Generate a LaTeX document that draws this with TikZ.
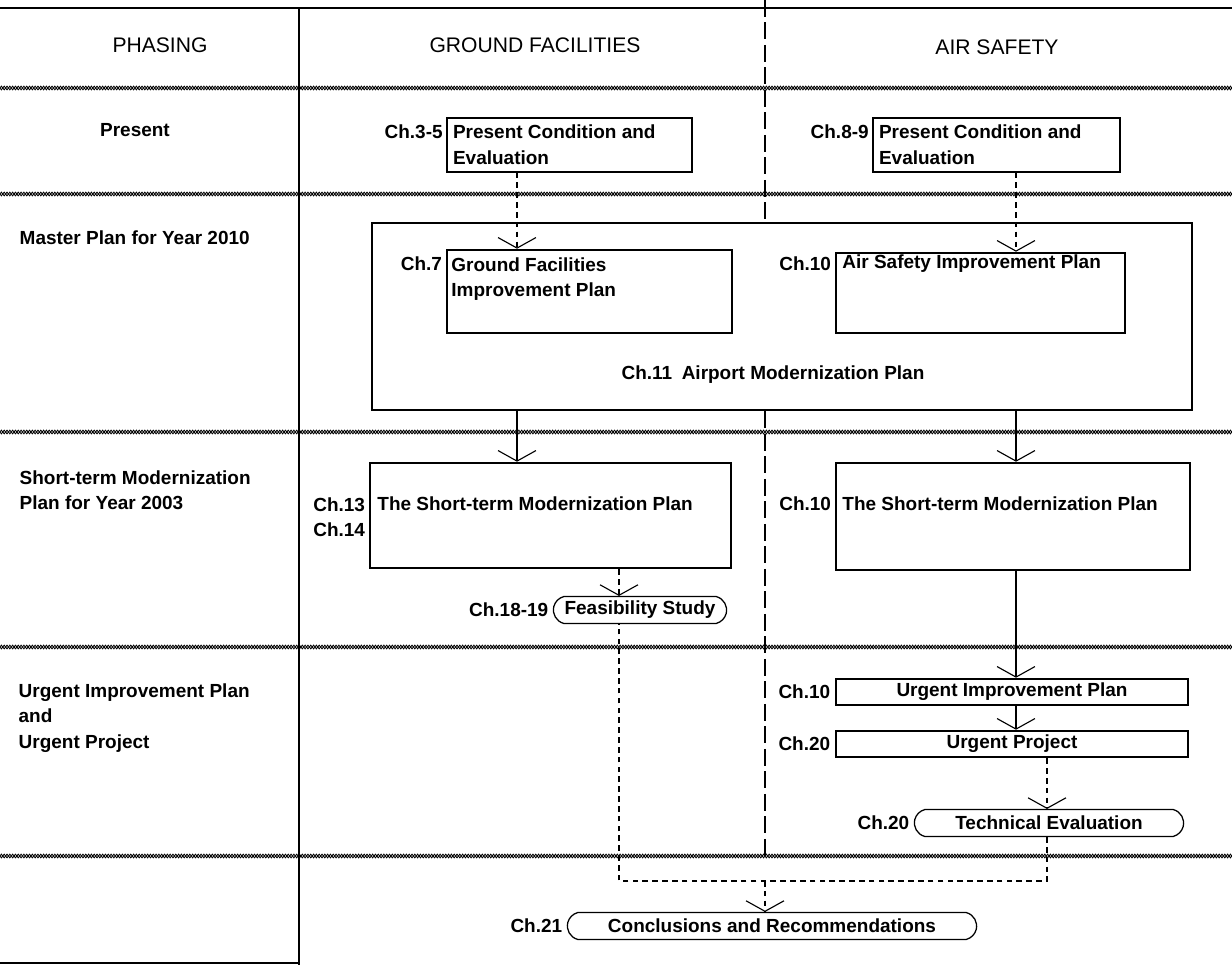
\documentclass[tikz,border=0pt]{standalone}
\usepackage{fontspec}
\setmainfont{Liberation Sans}
\usetikzlibrary{arrows.meta,positioning,calc,fit,shapes,decorations.pathmorphing}

\begin{document}
\begin{tikzpicture}[x=0.025cm, y=-0.025cm,
    every node/.style={font=\fontsize{13.5}{18}\selectfont\bfseries, inner sep=1pt},
    head/.style={font=\fontsize{15}{18}\selectfont},
    txt/.style={anchor=north west, align=left},
    chap/.style={anchor=east},
    box/.style={draw, line width=1.8pt, inner sep=0pt},
    thinbox/.style={draw, line width=0.9pt, inner sep=0pt},
    bar/.style={box, minimum width=8.8cm, minimum height=0.65cm},
    pill/.style={draw, line width=0.9pt, rounded rectangle, rounded rectangle arc length=150, minimum height=0.67cm},
    sep/.style={decorate, decoration={zigzag, segment length=4pt, amplitude=1.3pt}, line width=0.6pt},
    sepb/.style={sep, decoration={mirror}},
    divider/.style={line width=1pt, dash pattern=on 12pt off 4pt},
    link/.style={line width=0.9pt},
    flow/.style={link, -{Straight Barb[length=7.5pt, width=27pt, line width=0.8pt]}},
    dlink/.style={link, dash pattern=on 4pt off 3pt},
    dflow/.style={flow, dash pattern=on 4pt off 3pt}]

\useasboundingbox (0,0) rectangle (1232,965);

% table rules
\draw[line width=0.8pt] (0,8) -- (1232,8);
\draw[line width=1.2pt] (299,8) -- (299,965);
\draw[line width=0.8pt] (0,963) -- (299,963);
\foreach \y in {88,194,432,647,856} {
    \draw[sep] (0,\y) -- (1232,\y);
    \draw[sepb] (0,\y) -- (1232,\y);
}

% headings and phases
\node[head] (hphase) at (160,45) {PHASING};
\node[head] (hground) at (535,45) {GROUND FACILITIES};
\node[head] (hair) at (997,47) {AIR SAFETY};
\node (present) at (135,130) {Present};
\node[anchor=west] (master2010) at (18,238) {Master Plan for Year 2010};
\node[txt] (short2003) at (18,469) {Short-term Modernization\\Plan for Year 2003};
\node[txt] (urgent) at (17,682) {Urgent Improvement Plan\\and\\Urgent Project};

% boxes
\node[thinbox, fit={(447,118) (692,172)}] (gfnow) {};
\node[thinbox, fit={(873,118) (1120,172)}] (asnow) {};
\node[box, fit={(372,223) (1192,410)}] (master) {};
\node[box, fit={(447,250) (732,333)}] (gfimp) {};
\node[box, fit={(836,253) (1125,333)}] (asimp) {};
\node[box, fit={(370,463) (731,568)}] (gfshort) {};
\node[box, fit={(836,463) (1190,570)}] (asshort) {};
\node[bar] (urgplan) at (1012,692) {Urgent Improvement Plan};
\node[bar] (urgproj) at (1012,744) {Urgent Project};
\node[pill, minimum width=4.4cm] (feas) at (640,610) {Feasibility Study};
\node[pill, minimum width=6.8cm] (techev) at (1049,823) {Technical Evaluation};
\node[pill, minimum width=10.3cm] (concl) at (772,926) {Conclusions and Recommendations};

% texts in the boxes
\node[txt] (gfnowtxt) at ($(gfnow.north west)+(5,6)$) {Present Condition and\\Evaluation};
\node[txt] (asnowtxt) at ($(asnow.north west)+(5,6)$) {Present Condition and\\Evaluation};
\node[txt] (gfimptxt) at ($(gfimp.north west)+(4,7)$) {Ground Facilities\\Improvement Plan};
\node[anchor=west] (asimptxt) at ($(asimp.north west)+(6,12)$) {Air Safety Improvement Plan};
\node[anchor=west] (gfshorttxt) at ($(gfshort.north west)+(7,42)$) {The Short-term Modernization Plan};
\node[anchor=west] (asshorttxt) at ($(asshort.north west)+(6,42)$) {The Short-term Modernization Plan};
\node (mastertxt) at ($(master.south)+(-9,-37)$) {Ch.11\enspace Airport Modernization Plan};

% chapter numbers
\node[chap] (ch35) at ($(gfnow.north west)+(-2,14)$) {Ch.3-5};
\node[chap] (ch89) at ($(asnow.north west)+(-2,14)$) {Ch.8-9};
\node[chap] (ch7) at ($(gfimp.north west)+(-2,15)$) {Ch.7};
\node[chap] (ch10a) at ($(asimp.north west)+(-2,12)$) {Ch.10};
\node[anchor=north east, align=left] (ch1314) at ($(gfshort.north west)+(-2,34)$) {Ch.13\\Ch.14};
\node[chap] (ch10b) at ($(asshort.north west)+(-2,42)$) {Ch.10};
\node[left=2pt of feas] (ch1819) {Ch.18-19};
\node[left=2pt of urgplan] (ch10c) {Ch.10};
\node[left=2pt of urgproj] (ch20a) {Ch.20};
\node[left=2pt of techev] (ch20b) {Ch.20};
\node[left=2pt of concl] (ch21) {Ch.21};

% column divider
\coordinate (mid) at (765,0);
\coordinate (midend) at (765,856);
\draw[divider] (mid) -- (mid |- master.north);
\draw[divider] (mid |- master.south) -- (midend);

% connectors
\coordinate (gfa) at (517,0);
\coordinate (asa) at (1016,0);
\coordinate (gfb) at (619,0);
\coordinate (asb) at (1047,0);
\coordinate (join) at (765,881);
\draw[dflow] (gfa |- gfnow.south) -- (gfa |- gfimp.north);
\draw[dflow] (asa |- asnow.south) -- (asa |- asimp.north);
\draw[flow] (gfa |- master.south) -- (gfa |- gfshort.north);
\draw[flow] (asa |- master.south) -- (asa |- asshort.north);
\draw[dflow] (gfb |- gfshort.south) -- (gfb |- feas.north);
\draw[flow] (asa |- asshort.south) -- (asa |- urgplan.north);
\draw[flow] (asa |- urgplan.south) -- (asa |- urgproj.north);
\draw[dflow] (asb |- urgproj.south) -- (asb |- techev.north);
\draw[dlink] (asb |- techev.south) -- (asb |- join) -- (gfb |- join) -- (gfb |- feas.south);
\draw[dflow] (join) -- (join |- concl.north);

\end{tikzpicture}
\end{document}
